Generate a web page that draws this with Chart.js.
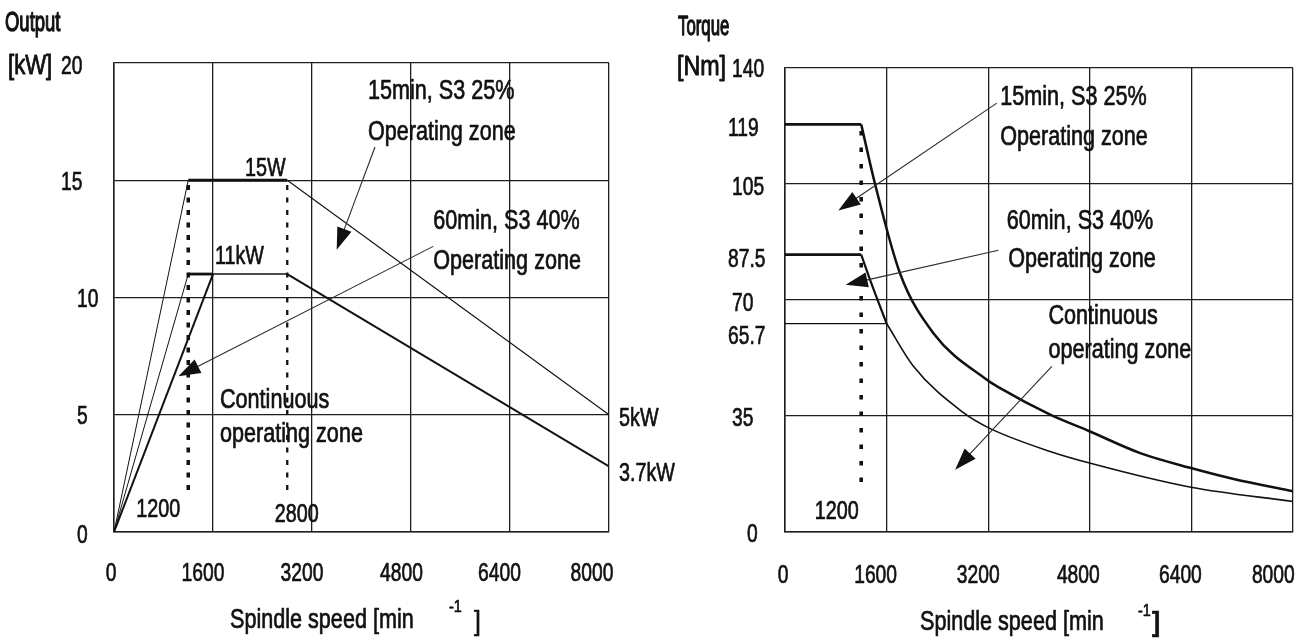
<!DOCTYPE html>
<html><head><meta charset="utf-8">
<script src="https://cdn.jsdelivr.net/npm/chart.js@4.4.1/dist/chart.umd.min.js"></script>
<style>
html,body{margin:0;padding:0;background:#fff;width:1303px;height:641px;overflow:hidden}
#left{position:absolute;left:0;top:0}
#right{position:absolute;left:651px;top:0}
</style></head><body>
<canvas id="left" width="700" height="641"></canvas>
<canvas id="right" width="652" height="641"></canvas>
<script>
// ================= DATA =================
const speedTicks = [0, 1600, 3200, 4800, 6400, 8000];
const powerTicks = [0, 5, 10, 15, 20];
const torqueTickValues = [0, 35, 62.9, 70, 83.7, 105, 123, 140];
const torqueTickLabels = ['0', '35', '65.7', '70', '87.5', '105', '119', '140'];

// Output (kW) vs spindle speed
const power15Speed = [0, 1200, 2800, 8000];
const power15Output = [0, 15, 15, 5];
const power60Speed = [0, 1200, 1600];
const power60Output = [0, 11, 11];
const powerContSpeed = [0, 1600, 2800, 8000];
const powerContOutput = [0, 11, 11, 2.8];
const powerMarkSpeed = [1200, 2800];
const powerMarkTop = [14.8, 14.8];
const powerMarkBottom = [1.5, 1.5];

// Torque (Nm) vs spindle speed
const torque15FlatSpeed = [0, 1200];
const torque15FlatValue = [123, 123];
const torque15CurveSpeed = [1200, 1418, 1812, 2337, 3174, 3388, 4176, 4795, 5594, 6393, 7065, 8000];
const torque15CurveValue = [123, 105, 78, 60, 46, 43.4, 35.4, 30.4, 23.8, 19.3, 16.0, 12.3];
const torque60FlatSpeed = [0, 1200];
const torque60FlatValue = [83.7, 83.7];
const torque60CurveSpeed = [1200, 1340, 1600];
const torque60CurveValue = [83.7, 76.1, 62.9];
const torqueContFlatSpeed = [0, 1600];
const torqueContFlatValue = [62.9, 62.9];
const torqueContCurveSpeed = [1600, 2022, 2810, 3200, 4176, 4795, 6393, 8000];
const torqueContCurveValue = [62.9, 50, 36, 31.5, 24.3, 20.8, 13.5, 9.2];
const torqueMarkSpeed = [1200];
const torqueMarkTop = [121];
const torqueMarkBottom = [12.2];

// ================= STYLE =================
const INK = '#111';
const FONT = '"Liberation Sans", Arial, sans-serif';
const segWidths = {
  p15: [1, 2.8, 1.1],
  p60: [1, 2.8],
  pCont: [2, 1.5, 2]
};

function pts(xs, ys) { return xs.map((x, i) => ({ x: x, y: ys[i] })); }

function lineDs(xs, ys, width, extra) {
  return Object.assign({
    data: pts(xs, ys), borderColor: INK, borderWidth: width,
    pointRadius: 0, tension: 0, fill: false, showLine: true
  }, extra || {});
}
function segDs(xs, ys, widths) {
  return lineDs(xs, ys, widths[0], {
    segment: { borderWidth: c => widths[c.p0DataIndex] }
  });
}
function markDs(xs, tops, bottoms, width, dash) {
  return xs.map((x, i) => lineDs([x, x], [tops[i], bottoms[i]], width,
    { borderDash: dash, borderCapStyle: 'butt' }));
}

function scaleCfg(min, max, step) {
  return {
    type: 'linear', min: min, max: max,
    ticks: { display: false, stepSize: step },
    grid: { color: '#1e1e1e', lineWidth: 1.3, drawTicks: false },
    border: { color: '#1e1e1e', width: 1.5 }
  };
}

function txt(ctx, s, x, yCenter, o) {
  ctx.save();
  ctx.font = (o.weight || 'normal') + ' ' + o.size + 'px ' + FONT;
  ctx.fillStyle = INK;
  ctx.strokeStyle = INK;
  ctx.lineWidth = o.heavy === undefined ? 0.7 : o.heavy;
  ctx.lineJoin = 'round';
  ctx.textBaseline = 'alphabetic';
  ctx.textAlign = 'left';
  const w = ctx.measureText(s).width * o.sx;
  let left = x;
  if (o.align === 'center') left = x - w / 2;
  else if (o.align === 'right') left = x - w;
  ctx.translate(left, yCenter + 0.35 * o.size);
  ctx.scale(o.sx, 1);
  ctx.fillText(s, 0, 0);
  if (ctx.lineWidth > 0) ctx.strokeText(s, 0, 0);
  ctx.restore();
}

function arrow(ctx, x1, y1, x2, y2) {
  const dx = x2 - x1, dy = y2 - y1, L = Math.hypot(dx, dy);
  const ux = dx / L, uy = dy / L, len = 22, half = 7.5;
  const bx = x2 - ux * len, by = y2 - uy * len;
  ctx.save();
  ctx.strokeStyle = '#2a2a2a'; ctx.lineWidth = 1.1;
  ctx.beginPath(); ctx.moveTo(x1, y1); ctx.lineTo(bx + ux * 2, by + uy * 2); ctx.stroke();
  ctx.fillStyle = INK;
  ctx.beginPath();
  ctx.moveTo(x2, y2);
  ctx.lineTo(bx - uy * half, by + ux * half);
  ctx.lineTo(bx + uy * half, by - ux * half);
  ctx.closePath(); ctx.fill();
  ctx.restore();
}

const tickFont = { size: 26, sx: 0.74 };
const wordFont = { size: 27, sx: 0.8 };
const markFont = { size: 26, sx: 0.76 };

// ---- annotation specs (in data units) ----
const leftNotes = [
  ['15min, S3 25%', 4105, 18.86], ['Operating zone', 4105, 17.13],
  ['60min, S3 40%', 5160, 13.32], ['Operating zone', 5160, 11.61],
  ['Continuous', 1713, 5.68], ['operating zone', 1713, 4.22]
];
const leftMarks = [
  ['15W', 2117, 15.59, 'left'], ['11kW', 1632, 11.83, 'left'],
  ['5kW', 8162, 4.92, 'left'], ['3.7kW', 8162, 2.57, 'left'],
  ['1200', 716, 1.02, 'center'], ['2800', 2953, 0.81, 'center']
];
const leftArrows = [[4218, 16.42, 3599, 12.04], [5160, 12.18, 1041, 6.64]];

const rightNotes = [
  ['15min, S3 25%', 3388, 131.6], ['Operating zone', 3388, 119.6],
  ['60min, S3 40%', 3493, 94.2], ['Operating zone', 3514, 82.8],
  ['Continuous', 4149, 65.6], ['operating zone', 4149, 55.5]
];
const rightMarks = [['1200', 815, 6.7, 'center']];
const rightArrows = [[3336, 129.4, 840, 97.0], [3361, 85.0, 956, 74.6], [4202, 50.0, 2679, 18.8]];

// label placement offsets (style)
const leftXLabelDx = [-3, -10, -10, -9.5, -10.5, -17];
const rightXLabelDx = [-2, -11, -10, -11.5, -11, -19.7];
const leftYLabelLeft = [77, 77, 77, 61, 61];      // for powerTicks order
const leftYLabelDy = [2, 0, 0, 1, 2];
const rightYLabelLeft = [96, 81, 77, 81, 77, 81, 77, 81]; // canvas-local, torqueTickValues order
const rightYLabelDy = [1, 1, 11, 2, 3, 2, 3, 0];

function drawNotes(ctx, xs, ys, notes, marks, arrows) {
  notes.forEach(n => txt(ctx, n[0], xs.getPixelForValue(n[1]), ys.getPixelForValue(n[2]), wordFont));
  marks.forEach(m => txt(ctx, m[0], xs.getPixelForValue(m[1]), ys.getPixelForValue(m[2]),
    Object.assign({ align: m[3] }, markFont)));
  arrows.forEach(a => arrow(ctx, xs.getPixelForValue(a[0]), ys.getPixelForValue(a[1]),
    xs.getPixelForValue(a[2]), ys.getPixelForValue(a[3])));
}

const leftOverlay = {
  id: 'leftOverlay',
  afterDraw(chart) {
    const ctx = chart.ctx, xs = chart.scales.x, ys = chart.scales.y;
    speedTicks.forEach((v, i) => txt(ctx, String(v), xs.getPixelForValue(v) + leftXLabelDx[i], 572,
      Object.assign({ align: 'center' }, tickFont)));
    powerTicks.forEach((v, i) => txt(ctx, String(v), leftYLabelLeft[i], ys.getPixelForValue(v) + leftYLabelDy[i], tickFont));
    txt(ctx, 'Output', 5, 21, { size: 28, sx: 0.66, heavy: 1.3 });
    txt(ctx, '[kW]', 8, 65, { size: 27, sx: 0.82, heavy: 0.9 });
    txt(ctx, 'Spindle speed [min', 230, 619, wordFont);
    txt(ctx, '-1', 449, 606, { size: 17, sx: 0.85 });
    txt(ctx, ']', 474, 621, { size: 27, sx: 0.9 });
    drawNotes(ctx, xs, ys, leftNotes, leftMarks, leftArrows);
  }
};
const rightOverlay = {
  id: 'rightOverlay',
  afterDraw(chart) {
    const ctx = chart.ctx, xs = chart.scales.x, ys = chart.scales.y;
    speedTicks.forEach((v, i) => txt(ctx, String(v), xs.getPixelForValue(v) + rightXLabelDx[i], 574,
      Object.assign({ align: 'center' }, tickFont)));
    torqueTickValues.forEach((v, i) => txt(ctx, torqueTickLabels[i], rightYLabelLeft[i], ys.getPixelForValue(v) + rightYLabelDy[i], tickFont));
    txt(ctx, 'Torque', 27, 25, { size: 28, sx: 0.6, heavy: 1.3 });
    txt(ctx, '[Nm]', 26, 66, { size: 27, sx: 0.86, heavy: 0.9 });
    txt(ctx, 'Spindle speed [min', 269, 621, wordFont);
    txt(ctx, '-1', 487, 610, { size: 17, sx: 0.85 });
    txt(ctx, ']', 501, 622, { size: 27, sx: 0.9, weight: 'bold' });
    drawNotes(ctx, xs, ys, rightNotes, rightMarks, rightArrows);
  }
};

const baseOpts = (pad, xMax, yMax, yStep) => ({
  responsive: false, animation: false, devicePixelRatio: 1,
  layout: { padding: pad },
  plugins: { legend: { display: false }, tooltip: { enabled: false }, title: { display: false } },
  scales: { x: scaleCfg(0, xMax, 1600), y: scaleCfg(0, yMax, yStep) },
  elements: { line: { borderJoinStyle: 'miter' } }
});

new Chart(document.getElementById('left'), {
  type: 'scatter',
  data: {
    datasets: [
      segDs(power15Speed, power15Output, segWidths.p15),
      segDs(power60Speed, power60Output, segWidths.p60),
      segDs(powerContSpeed, powerContOutput, segWidths.pCont),
      ...markDs([powerMarkSpeed[0]], [powerMarkTop[0]], [powerMarkBottom[0]], 3.5, [5, 7.5]),
      ...markDs([powerMarkSpeed[1]], [powerMarkTop[1]], [powerMarkBottom[1]], 2.3, [5, 7.5])
    ]
  },
  options: baseOpts({ left: 114, right: 91, top: 63, bottom: 109 }, 8000, 20, 5),
  plugins: [leftOverlay]
});

new Chart(document.getElementById('right'), {
  type: 'scatter',
  data: {
    datasets: [
      lineDs(torque15FlatSpeed, torque15FlatValue, 2.6),
      lineDs(torque15CurveSpeed, torque15CurveValue, 2.5, { cubicInterpolationMode: 'monotone' }),
      lineDs(torque60FlatSpeed, torque60FlatValue, 2.6),
      lineDs(torque60CurveSpeed, torque60CurveValue, 2.2, { cubicInterpolationMode: 'monotone' }),
      lineDs(torqueContFlatSpeed, torqueContFlatValue, 1.3),
      lineDs(torqueContCurveSpeed, torqueContCurveValue, 1.6, { cubicInterpolationMode: 'monotone' }),
      ...markDs(torqueMarkSpeed, torqueMarkTop, torqueMarkBottom, 3.6, [4.5, 12])
    ]
  },
  options: baseOpts({ left: 134, right: 10, top: 68, bottom: 109 }, 8000, 140, 35),
  plugins: [rightOverlay]
});
</script>
</body></html>
